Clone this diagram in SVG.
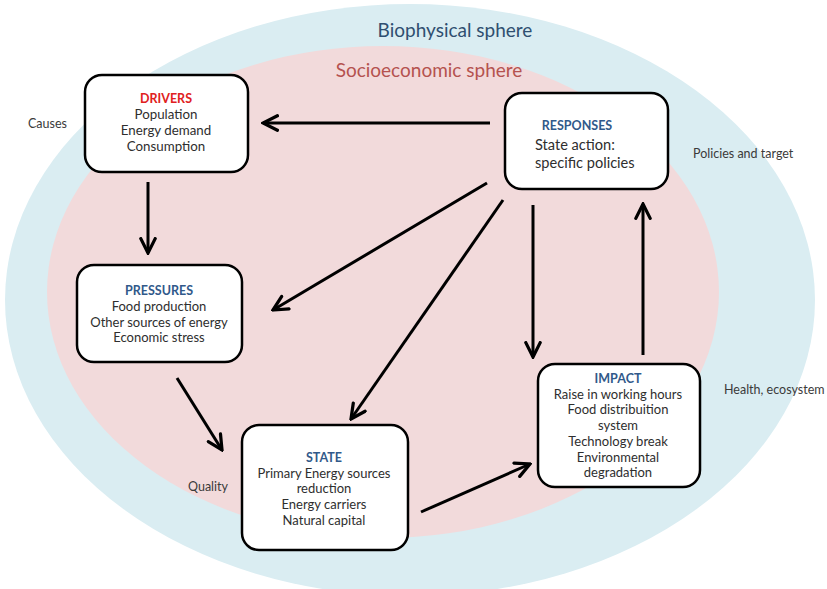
<svg xmlns="http://www.w3.org/2000/svg" width="827" height="589" viewBox="0 0 827 589">
  <style>
    text { font-family: Lato, "Open Sans", "Liberation Sans", sans-serif; }
    .box { fill: #ffffff; stroke: #000000; stroke-width: 2.5; }
    .body { font-size: 13px; fill: #2e2e2e; text-anchor: middle; }
    .head { font-size: 12.5px; font-weight: bold; fill: #31598a; text-anchor: middle; }
    .side { font-size: 12.5px; fill: #3a3a3a; }
    .conn { stroke: #000000; stroke-width: 3; fill: none; marker-end: url(#arrow); }
  </style>
  <defs>
    <marker id="arrow" viewBox="0 0 10 10" refX="9" refY="5" markerWidth="6" markerHeight="6" markerUnits="strokeWidth" orient="auto">
      <path d="M1,1 L9,5 L1,9" fill="none" stroke="#000000" stroke-width="1.8" stroke-linecap="round" stroke-linejoin="miter"/>
    </marker>
  </defs>

  <rect width="827" height="589" fill="#ffffff"/>

  <!-- spheres -->
  <g id="biophysical-sphere">
    <ellipse cx="410" cy="300" rx="405" ry="296" fill="#daedf2"/>
    <text x="455" y="37" font-size="19" fill="#2f4f70" text-anchor="middle">Biophysical sphere</text>
  </g>
  <g id="socioeconomic-sphere">
    <ellipse cx="383" cy="292" rx="336" ry="246" fill="#f2dadb"/>
    <text x="429" y="77" font-size="19" fill="#b5524f" text-anchor="middle">Socioeconomic sphere</text>
  </g>

  <!-- side labels -->
  <text class="side" x="28" y="128">Causes</text>
  <text class="side" x="693" y="158">Policies and target</text>
  <text class="side" x="724" y="394">Health, ecosystem</text>
  <text class="side" x="188" y="491">Quality</text>

  <!-- connectors -->
  <g id="connectors">
    <line class="conn" x1="490" y1="123" x2="263" y2="123"/>
    <line class="conn" x1="148" y1="182" x2="148" y2="253"/>
    <line class="conn" x1="487" y1="183" x2="273" y2="310"/>
    <line class="conn" x1="503" y1="200" x2="351" y2="419"/>
    <line class="conn" x1="533" y1="205" x2="533" y2="357"/>
    <line class="conn" x1="643" y1="355" x2="643" y2="204"/>
    <line class="conn" x1="177" y1="378" x2="222" y2="450"/>
    <line class="conn" x1="421" y1="512" x2="530" y2="464"/>
  </g>

  <!-- nodes -->
  <g id="drivers">
    <rect class="box" x="85" y="75" width="163" height="97" rx="17"/>
    <text class="head" x="166" y="103" style="fill:#e02020">DRIVERS</text>
    <text class="body" x="166" y="119" style="font-size:13.3px">Population</text>
    <text class="body" x="166" y="135" style="font-size:13.3px">Energy demand</text>
    <text class="body" x="166" y="151" style="font-size:13.3px">Consumption</text>
  </g>

  <g id="responses">
    <rect class="box" x="505" y="93" width="163" height="96" rx="17"/>
    <text class="head" x="577" y="130">RESPONSES</text>
    <text class="body" x="535" y="150" style="text-anchor:start;font-size:14.6px">State action:</text>
    <text class="body" x="535" y="168" style="text-anchor:start;font-size:14.6px">specific policies</text>
  </g>

  <g id="pressures">
    <rect class="box" x="77" y="265" width="165" height="97" rx="17"/>
    <text class="head" x="159" y="295">PRESSURES</text>
    <text class="body" x="159" y="311">Food production</text>
    <text class="body" x="159" y="326.7">Other sources of energy</text>
    <text class="body" x="159" y="342.4">Economic stress</text>
  </g>

  <g id="state">
    <rect class="box" x="242" y="425" width="166" height="125" rx="17"/>
    <text class="head" x="324" y="462">STATE</text>
    <text class="body" x="324" y="477.7">Primary Energy sources</text>
    <text class="body" x="324" y="493.4">reduction</text>
    <text class="body" x="324" y="509.1">Energy carriers</text>
    <text class="body" x="324" y="524.8">Natural capital</text>
  </g>

  <g id="impact">
    <rect class="box" x="538" y="364" width="162" height="123" rx="17"/>
    <text class="head" x="618" y="383">IMPACT</text>
    <text class="body" x="618" y="398.7">Raise in working hours</text>
    <text class="body" x="618" y="414.4">Food distribuition</text>
    <text class="body" x="618" y="430.1">system</text>
    <text class="body" x="618" y="445.8">Technology break</text>
    <text class="body" x="618" y="461.5">Environmental</text>
    <text class="body" x="618" y="477.2">degradation</text>
  </g>
</svg>
